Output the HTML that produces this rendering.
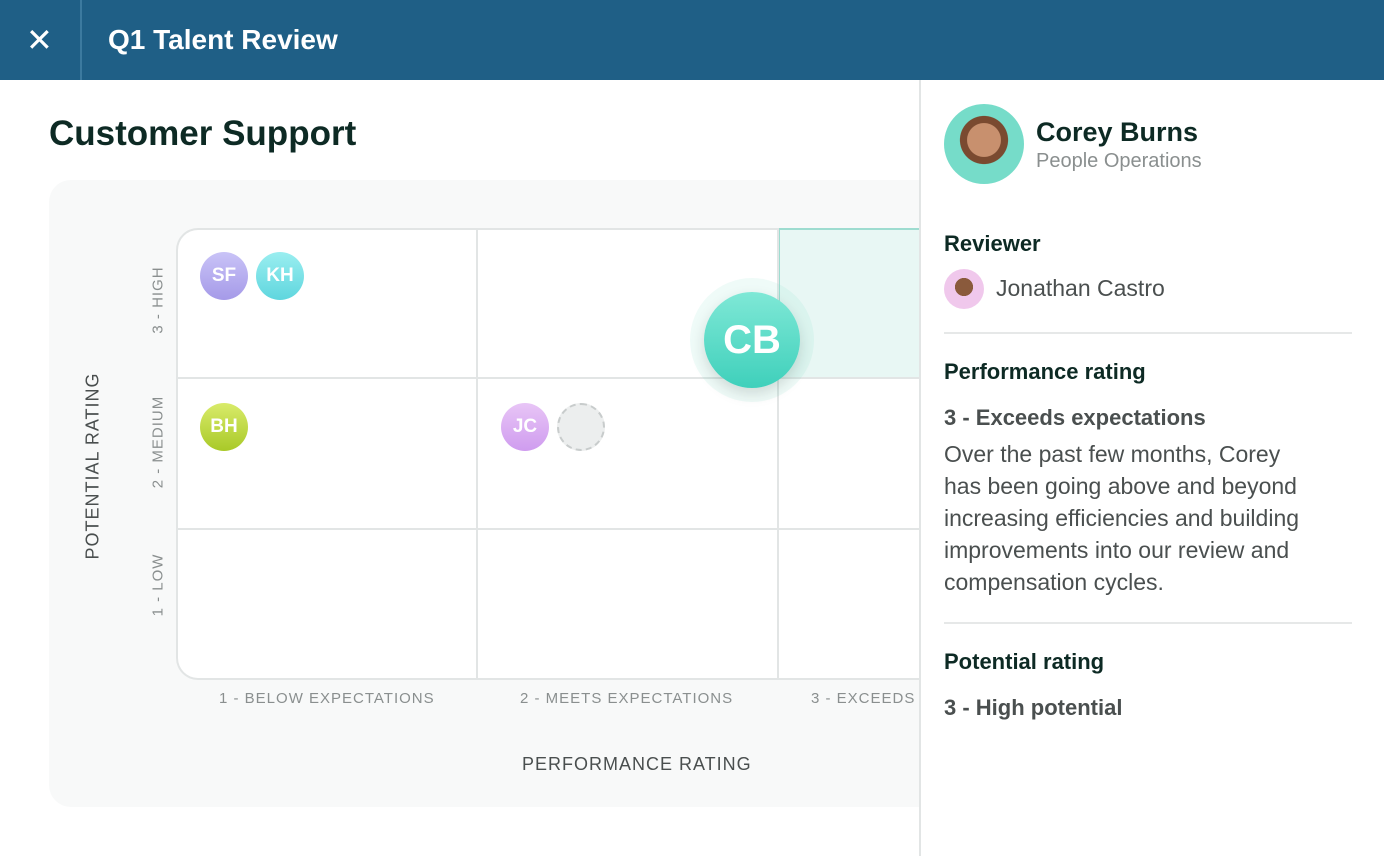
<!DOCTYPE html>
<html><head><meta charset="utf-8"><style>
*{margin:0;padding:0;box-sizing:border-box}
body{width:1384px;height:856px;overflow:hidden;background:#fff;font-family:"Liberation Sans",sans-serif;position:relative}
.hdr{position:absolute;left:0;top:0;width:1384px;height:80px;background:#1f5f86}
.abs{position:absolute}
.av{position:absolute;width:48px;height:48px;border-radius:50%;color:#fff;font-weight:bold;font-size:19px;display:flex;align-items:center;justify-content:center}
.vl{position:absolute;width:2px;background:#e2e5e5}
.hl{position:absolute;height:2px;background:#e2e5e5}
.ax{position:absolute;color:#8a8f8f;font-size:15px;letter-spacing:1px;white-space:nowrap}
.rt{position:absolute;left:944px;color:#0d2a24;font-size:22px;font-weight:bold}
.tx{position:absolute;left:944px;color:#4a4f4f;font-size:23px;line-height:32px}
</style></head><body>
<div class="hdr"></div>
<div class="abs" style="left:26px;top:22px;color:#fff;font-size:32px;line-height:36px">✕</div>
<div class="abs" style="left:80px;top:0;width:2px;height:80px;background:#3c7a9f"></div>
<div class="abs" style="left:108px;top:24px;color:#fff;font-size:28px;font-weight:bold">Q1 Talent Review</div>
<div class="abs" style="left:49px;top:114px;color:#0d2a24;font-size:35px;font-weight:bold">Customer Support</div>
<div class="abs" style="left:49px;top:180px;width:900px;height:627px;background:#f8f9f9;border-radius:22px"></div>
<div class="abs" style="left:176px;top:228px;width:800px;height:452px;background:#fff;border:2px solid #e2e5e5;border-radius:22px 0 0 22px;border-right:none"></div>
<div class="abs" style="left:778px;top:228px;width:160px;height:151px;background:#e8f7f4;border:2px solid #9edcd0;border-right:none"></div>
<div class="vl" style="left:476px;top:228px;height:452px"></div>
<div class="vl" style="left:777px;top:228px;height:452px"></div>
<div class="hl" style="left:176px;top:377px;width:750px"></div>
<div class="hl" style="left:176px;top:528px;width:750px"></div>
<div class="av" style="left:200px;top:252px;background:linear-gradient(#c9c3f7,#a59ae8)">SF</div>
<div class="av" style="left:256px;top:252px;background:linear-gradient(#9aeef0,#5fd6de)">KH</div>
<div class="av" style="left:200px;top:403px;background:linear-gradient(#d9eb6a,#a9c928)">BH</div>
<div class="av" style="left:501px;top:403px;background:linear-gradient(#e8c5f6,#cf9cef)">JC</div>
<div class="av" style="left:557px;top:403px;background:#eceeee;border:2px dashed #c8cccc"></div>
<div class="av" style="left:704px;top:292px;width:96px;height:96px;font-size:40px;font-weight:bold;background:linear-gradient(#7fe8d6,#3fd0bb);box-shadow:0 0 0 14px rgba(120,220,200,0.12),0 6px 14px rgba(0,0,0,0.15)">CB</div>
<div class="ax" style="left:219px;top:690px">1 - BELOW EXPECTATIONS</div>
<div class="ax" style="left:520px;top:690px">2 - MEETS EXPECTATIONS</div>
<div class="ax" style="left:811px;top:690px">3 - EXCEEDS</div>
<div class="ax" style="left:522px;top:754px;font-size:18px;color:#4a4f4f">PERFORMANCE RATING</div>
<div class="ax" style="left:158px;top:300px;transform:translate(-50%,-50%) rotate(-90deg)">3 - HIGH</div>
<div class="ax" style="left:158px;top:442px;transform:translate(-50%,-50%) rotate(-90deg)">2 - MEDIUM</div>
<div class="ax" style="left:158px;top:585px;transform:translate(-50%,-50%) rotate(-90deg)">1 - LOW</div>
<div class="ax" style="left:93px;top:466px;font-size:18px;color:#4a4f4f;transform:translate(-50%,-50%) rotate(-90deg)">POTENTIAL RATING</div>
<div class="abs" style="left:919px;top:80px;width:465px;height:776px;background:#fff;border-left:2px solid #e2e5e5"></div>
<div class="abs" style="left:944px;top:104px;width:80px;height:80px;border-radius:50%;background:radial-gradient(circle at 50% 45%,#c8906e 0 28%,#7a4a30 29% 40%,#76dcc9 41%);"></div>
<div class="abs" style="left:1036px;top:117px;color:#0d2a24;font-size:27px;font-weight:bold">Corey Burns</div>
<div class="abs" style="left:1036px;top:150px;color:#8a8f8f;font-size:20px">People Operations</div>
<div class="rt" style="top:231px">Reviewer</div>
<div class="abs" style="left:944px;top:269px;width:40px;height:40px;border-radius:50%;background:radial-gradient(circle at 50% 45%,#8a5a3c 0 30%,#f0c8ec 31%)"></div>
<div class="abs" style="left:996px;top:275px;color:#4a4f4f;font-size:23px">Jonathan Castro</div>
<div class="abs" style="left:944px;top:332px;width:408px;height:2px;background:#e6e8e8"></div>
<div class="rt" style="top:359px">Performance rating</div>
<div class="rt" style="top:405px;color:#4a4f4f">3 - Exceeds expectations</div>
<div class="tx" style="top:438px">Over the past few months, Corey<br>has been going above and beyond<br>increasing efficiencies and building<br>improvements into our review and<br>compensation cycles.</div>
<div class="abs" style="left:944px;top:622px;width:408px;height:2px;background:#e6e8e8"></div>
<div class="rt" style="top:649px">Potential rating</div>
<div class="rt" style="top:695px;color:#4a4f4f">3 - High potential</div>
</body></html>
